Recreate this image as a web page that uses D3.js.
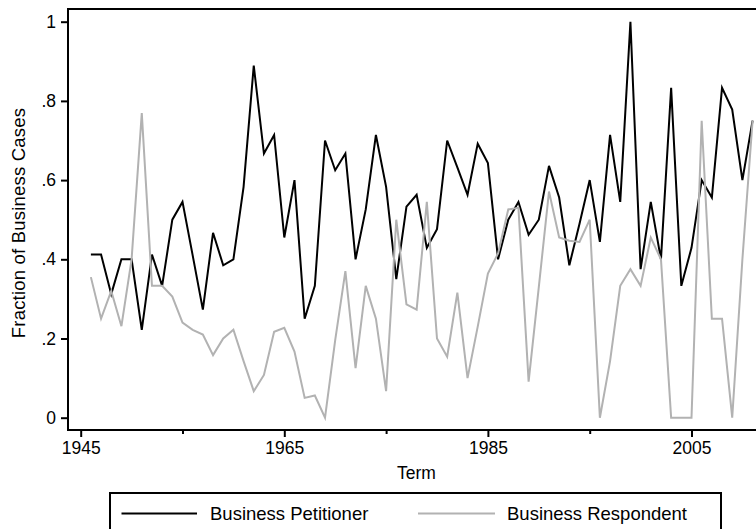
<!DOCTYPE html>
<html>
<head>
<meta charset="utf-8">
<script src="https://cdn.jsdelivr.net/npm/d3@7"></script>
<style>
  html, body { margin: 0; padding: 0; background: #fff; }
  svg { display: block; }
  text { font-family: "Liberation Sans", Arial, Helvetica, sans-serif; fill: #000; }
</style>
</head>
<body>
<svg id="chart" width="756" height="529"></svg>
<script>
const years = d3.range(1946, 2012);
const petitioner = [
  0.412, 0.412, 0.312, 0.40, 0.40, 0.222, 0.412, 0.333, 0.50, 0.545,
  0.41, 0.273, 0.467, 0.385, 0.40, 0.583, 0.889, 0.667, 0.714, 0.455,
  0.60, 0.25, 0.333, 0.70, 0.625, 0.667, 0.40, 0.526, 0.714, 0.583,
  0.35, 0.533, 0.563, 0.429, 0.476, 0.70, 0.632, 0.563, 0.692, 0.643,
  0.40, 0.50, 0.545, 0.462, 0.50, 0.636, 0.556, 0.385, 0.49, 0.60,
  0.444, 0.714, 0.545, 1.0, 0.375, 0.545, 0.40, 0.833, 0.333, 0.429,
  0.60, 0.556, 0.833, 0.778, 0.60, 0.75
];
const respondent = [
  0.355, 0.25, 0.32, 0.231, 0.40, 0.769, 0.333, 0.333, 0.306, 0.24,
  0.222, 0.21, 0.158, 0.20, 0.222, 0.143, 0.067, 0.108, 0.217, 0.227,
  0.167, 0.05, 0.056, 0.0, 0.196, 0.37, 0.125, 0.333, 0.25, 0.067,
  0.50, 0.286, 0.273, 0.545, 0.20, 0.154, 0.316, 0.10, 0.23, 0.364,
  0.415, 0.526, 0.53, 0.091, 0.33, 0.571, 0.455, 0.447, 0.444, 0.50,
  0.0, 0.143, 0.333, 0.375, 0.333, 0.455, 0.40, 0.0, 0.0, 0.0,
  0.75, 0.25, 0.25, 0.0, 0.40, 0.75
];
const seriesNames = ["Business Petitioner", "Business Respondent"];
const seriesColors = ["#000000", "#b2b2b2"];
const xMajorTicks = [1945, 1965, 1985, 2005];
const xMinorTicks = [1955, 1975, 1995];
const yTicks = [0, 0.2, 0.4, 0.6, 0.8, 1];
const yTickLabels = ["0", ".2", ".4", ".6", ".8", "1"];
const xTitle = "Term";
const yTitle = "Fraction of Business Cases";

const svg = d3.select("#chart");
const frame = { left: 68, top: 9, right: 790, bottom: 430 };

const x = d3.scaleLinear().domain([1945, 2005]).range([80.7, 691.5]);
const y = d3.scaleLinear().domain([0, 1]).range([417.7, 21.7]);

// frame
svg.append("rect")
  .attr("x", frame.left).attr("y", frame.top)
  .attr("width", frame.right - frame.left).attr("height", frame.bottom - frame.top)
  .attr("fill", "none").attr("stroke", "#000").attr("stroke-width", 2);

// y axis
const yAxis = d3.axisLeft(y).tickValues(yTicks)
  .tickFormat((d, i) => yTickLabels[i]).tickSize(7).tickPadding(5);
const gy = svg.append("g").attr("transform", `translate(${frame.left},0)`).call(yAxis);
gy.select(".domain").remove();
gy.selectAll(".tick line").attr("stroke", "#000").attr("stroke-width", 2);
gy.selectAll(".tick text").attr("font-size", 17.5)
  .style("font-family", '"Liberation Sans", Arial, sans-serif');

// x axis major
const xAxis = d3.axisBottom(x).tickValues(xMajorTicks)
  .tickFormat(d3.format("d")).tickSize(7).tickPadding(5);
const gx = svg.append("g").attr("transform", `translate(0,${frame.bottom})`).call(xAxis);
gx.select(".domain").remove();
gx.selectAll(".tick line").attr("stroke", "#000").attr("stroke-width", 2);
gx.selectAll(".tick text").attr("font-size", 17.5)
  .style("font-family", '"Liberation Sans", Arial, sans-serif');

// x axis minor
const xMinor = d3.axisBottom(x).tickValues(xMinorTicks).tickFormat("").tickSize(4);
const gxm = svg.append("g").attr("transform", `translate(0,${frame.bottom})`).call(xMinor);
gxm.select(".domain").remove();
gxm.selectAll(".tick line").attr("stroke", "#000").attr("stroke-width", 2);

// titles
svg.append("text").attr("x", 416.5).attr("y", 479)
  .attr("text-anchor", "middle").attr("font-size", 17.5).text(xTitle);
svg.append("text")
  .attr("transform", `translate(25,223) rotate(-90)`)
  .attr("text-anchor", "middle").attr("font-size", 18.5)
  .attr("letter-spacing", 0.2).text(yTitle);

// lines
svg.append("clipPath").attr("id", "clip")
  .append("rect").attr("x", frame.left).attr("y", frame.top)
  .attr("width", frame.right - frame.left).attr("height", frame.bottom - frame.top);

const line = d3.line().x(d => x(d[0])).y(d => y(d[1]));
[petitioner, respondent].forEach((vals, i) => {
  const pts = years.map((yr, j) => [yr, vals[j]]);
  svg.append("path").datum(pts)
    .attr("d", line)
    .attr("fill", "none")
    .attr("stroke", seriesColors[i])
    .attr("stroke-width", 2)
    .attr("stroke-linejoin", "miter")
    .attr("clip-path", "url(#clip)");
});

// legend
const lg = svg.append("g");
lg.append("rect").attr("x", 110).attr("y", 493).attr("width", 611).attr("height", 60)
  .attr("fill", "#fff").attr("stroke", "#000").attr("stroke-width", 2);
const legendItems = [
  { x1: 121.5, x2: 197, tx: 210 },
  { x1: 418, x2: 495, tx: 507 }
];
legendItems.forEach((it, i) => {
  lg.append("line").attr("x1", it.x1).attr("x2", it.x2).attr("y1", 513.5).attr("y2", 513.5)
    .attr("stroke", seriesColors[i]).attr("stroke-width", 2);
  lg.append("text").attr("x", it.tx).attr("y", 520).attr("font-size", 18.5).text(seriesNames[i]);
});
</script>
</body>
</html>
